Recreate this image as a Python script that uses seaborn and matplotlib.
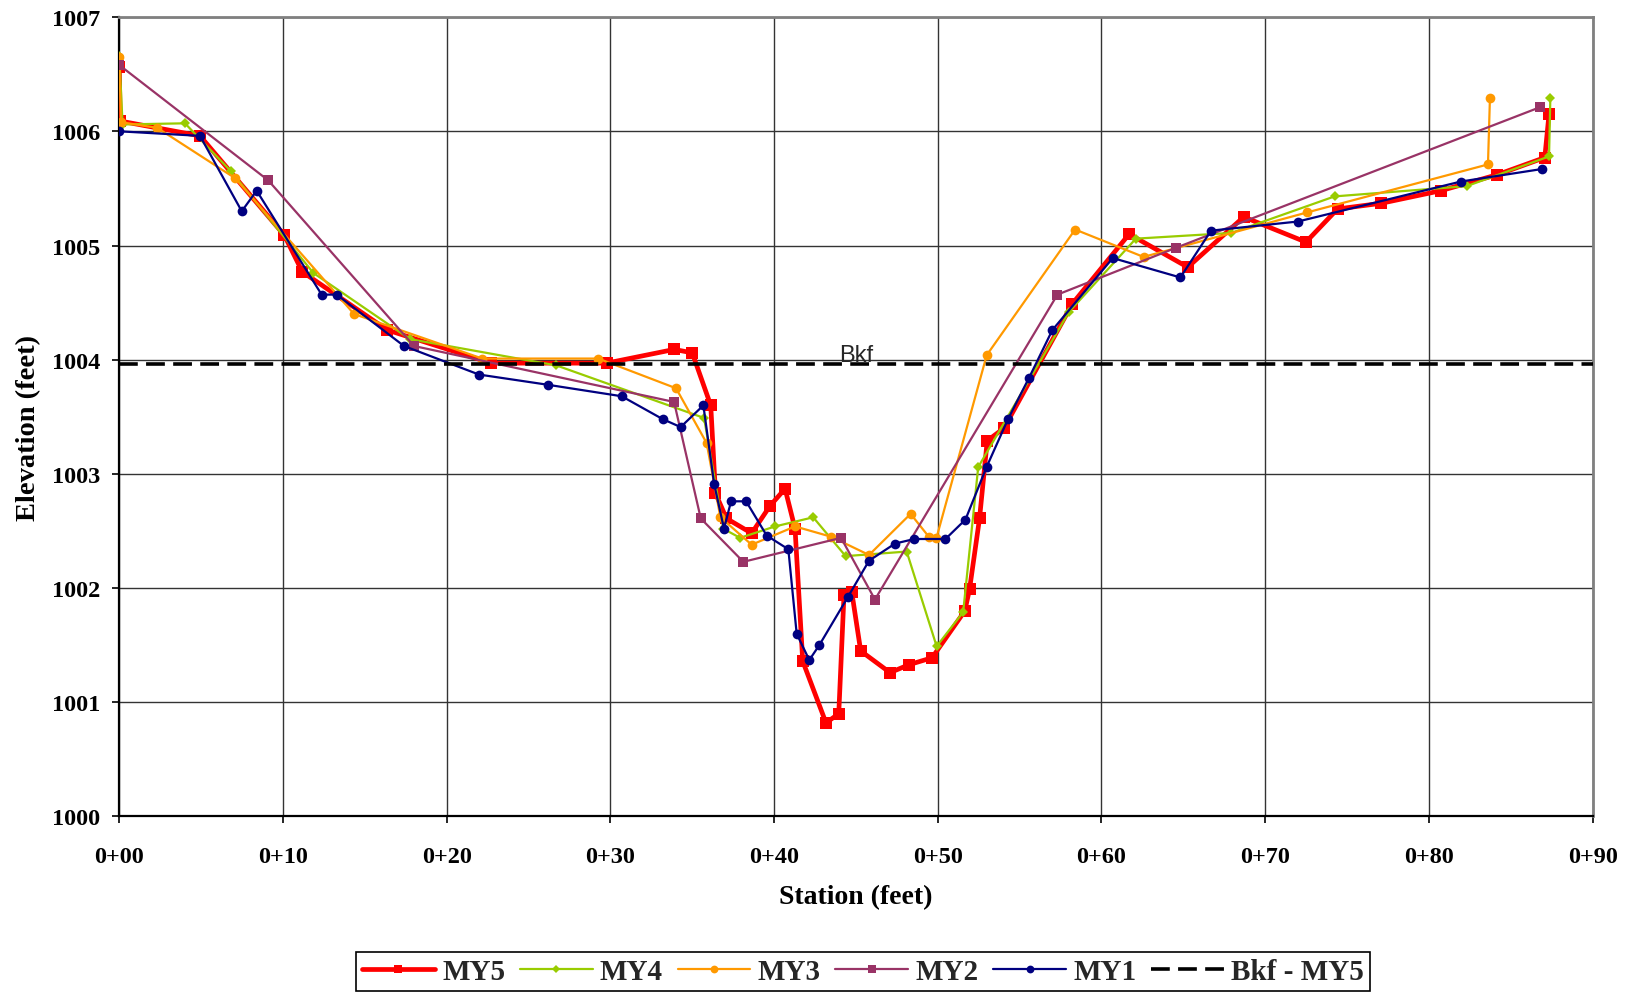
import matplotlib
matplotlib.use("Agg")
import matplotlib.pyplot as plt
import seaborn as sns
from matplotlib.ticker import FixedLocator, FuncFormatter

# ---------------- data ----------------
my5_x = [0.0, 0.05, 4.93, 10.08, 11.18, 16.37, 22.71, 29.77, 33.90, 35.00, 36.13, 36.42, 37.09, 38.63,
         39.75, 40.67, 41.28, 41.75, 43.17, 43.95, 44.27, 44.74, 45.29, 47.08, 48.26, 49.65, 51.65,
         51.94, 52.55, 53.02, 54.04, 58.22, 61.69, 65.27, 68.69, 72.49, 74.42, 77.10, 80.73, 84.18,
         87.08, 87.34]
my5_y = [1006.56, 1006.09, 1005.96, 1005.09, 1004.77, 1004.26, 1003.97, 1003.97, 1004.09, 1004.06,
         1003.60, 1002.83, 1002.61, 1002.48, 1002.72, 1002.87, 1002.52, 1001.36, 1000.82, 1000.90,
         1001.94, 1001.97, 1001.45, 1001.26, 1001.33, 1001.39, 1001.80, 1001.99, 1002.61, 1003.29,
         1003.40, 1004.49, 1005.10, 1004.81, 1005.25, 1005.03, 1005.32, 1005.37, 1005.48, 1005.62,
         1005.77, 1006.15]

my4_x = [0.0, 0.2, 4.01, 6.82, 11.85, 17.76, 26.70, 35.72, 36.90, 37.92, 40.06, 42.39, 44.37, 48.10,
         49.93, 51.55, 52.47, 58.02, 62.10, 67.92, 74.24, 82.31, 87.34, 87.42]
my4_y = [1006.66, 1006.06, 1006.07, 1005.65, 1004.76, 1004.18, 1003.95, 1003.49, 1002.52, 1002.44,
         1002.54, 1002.62, 1002.28, 1002.32, 1001.49, 1001.79, 1003.06, 1004.42, 1005.06, 1005.11,
         1005.43, 1005.52, 1005.78, 1006.29]

my3_x = [0.0, 0.1, 2.32, 7.07, 14.34, 22.17, 29.26, 34.01, 35.88, 36.72, 38.63, 41.28, 43.48, 45.80,
         48.34, 49.45, 49.92, 52.99, 58.39, 62.57, 72.57, 83.61, 83.73]
my3_y = [1006.65, 1006.08, 1006.03, 1005.59, 1004.40, 1004.01, 1004.01, 1003.75, 1003.27, 1002.62,
         1002.38, 1002.54, 1002.45, 1002.29, 1002.65, 1002.45, 1002.44, 1004.04, 1005.14, 1004.90,
         1005.29, 1005.71, 1006.29]

my2_x = [0.0, 9.10, 18.00, 33.89, 35.52, 38.12, 44.09, 46.16, 57.31, 64.55, 86.77]
my2_y = [1006.58, 1005.57, 1004.12, 1003.63, 1002.61, 1002.23, 1002.44, 1001.90, 1004.57, 1004.98,
         1006.21]

my1_x = [0.0, 4.93, 7.48, 8.39, 12.36, 13.28, 17.39, 21.97, 26.20, 30.69, 33.19, 34.29, 35.68, 36.34,
         36.94, 37.37, 38.29, 39.55, 40.87, 41.38, 42.15, 42.76, 44.50, 45.80, 47.39, 48.57, 50.47,
         51.69, 52.98, 54.29, 55.57, 57.00, 60.69, 64.82, 66.69, 72.00, 81.95, 86.92]
my1_y = [1006.00, 1005.96, 1005.30, 1005.48, 1004.57, 1004.57, 1004.12, 1003.87, 1003.78, 1003.68,
         1003.48, 1003.41, 1003.60, 1002.91, 1002.52, 1002.76, 1002.76, 1002.46, 1002.34, 1001.60,
         1001.37, 1001.50, 1001.92, 1002.24, 1002.39, 1002.43, 1002.43, 1002.60, 1003.06, 1003.48,
         1003.84, 1004.26, 1004.89, 1004.72, 1005.13, 1005.21, 1005.56, 1005.67]

bkf_x = [0.0, 90.0]
bkf_y = [1003.96, 1003.96]

x_ticks = [0, 10, 20, 30, 40, 50, 60, 70, 80, 90]
y_ticks = [1000, 1001, 1002, 1003, 1004, 1005, 1006, 1007]

# ---------------- style ----------------
sns.set_theme(style="white")
plt.rcParams["font.family"] = ["Liberation Serif", "DejaVu Serif"]

fig = plt.figure(figsize=(16.29, 9.95), dpi=100)
ax = fig.add_axes([0.07324, 0.1784, 0.9044, 0.8034])

series = [
    ("MY5", my5_x, my5_y, "#FF0000", "s", 3.4, 8.0),
    ("MY4", my4_x, my4_y, "#99CC00", "D", 1.6, 5.5),
    ("MY3", my3_x, my3_y, "#FF9900", "o", 1.6, 7.0),
    ("MY2", my2_x, my2_y, "#993366", "s", 1.6, 6.5),
    ("MY1", my1_x, my1_y, "#000080", "o", 1.6, 7.0),
]
for i, (lab, xs, ys, col, mk, lw, ms) in enumerate(series):
    sns.lineplot(x=xs, y=ys, sort=False, estimator=None, ax=ax, color=col, marker=mk,
                 linewidth=lw, markersize=ms, markeredgecolor=col, markeredgewidth=0,
                 label=lab, zorder=3 + i)

sns.lineplot(x=bkf_x, y=bkf_y, sort=False, estimator=None, ax=ax, color="black",
             linewidth=2.6, linestyle=(0, (5.2, 2.3)), label="Bkf - MY5", zorder=10)

ax.text(43.97, 1003.99, "Bkf", fontsize=17, family=["Liberation Sans", "DejaVu Sans"],
        ha="left", va="baseline", zorder=11)

ax.set_xlim(0, 90)
ax.set_ylim(1000, 1007)
ax.xaxis.set_major_locator(FixedLocator(x_ticks))
ax.yaxis.set_major_locator(FixedLocator(y_ticks))
ax.xaxis.set_major_formatter(FuncFormatter(lambda v, p: "0+%02d" % int(round(v))))
ax.yaxis.set_major_formatter(FuncFormatter(lambda v, p: "%d" % int(round(v))))

ax.grid(True, color="#333333", linewidth=1.0)
ax.set_axisbelow(True)

for s in ["left", "bottom"]:
    ax.spines[s].set_color("black")
    ax.spines[s].set_linewidth(1.6)
for s in ["top", "right"]:
    ax.spines[s].set_color("#808080")
    ax.spines[s].set_linewidth(2.0)

ax.tick_params(axis="both", which="major", direction="out", length=5, width=1.2,
               color="black", labelsize=17.5, labelcolor="black")
ax.tick_params(axis="x", pad=16, bottom=True)
ax.tick_params(axis="y", pad=8.5, left=True)
for t in ax.get_xticklabels() + ax.get_yticklabels():
    t.set_fontweight("bold")

ax.set_xlabel("Station (feet)", fontsize=20, fontweight="bold", color="black")
ax.set_ylabel("Elevation (feet)", fontsize=20.5, fontweight="bold", color="black")
ax.xaxis.set_label_coords(0.5, -0.084)
ax.yaxis.set_label_coords(-0.053, 0.487)

handles, labels = ax.get_legend_handles_labels()
order = ["MY5", "MY4", "MY3", "MY2", "MY1", "Bkf - MY5"]
hmap = dict(zip(labels, handles))
leg = ax.legend([hmap[k] for k in order], order, loc="center",
                bbox_to_anchor=(0.5298, 0.0225), bbox_transform=fig.transFigure,
                ncol=6, frameon=True, fancybox=False, edgecolor="black", framealpha=1,
                prop={"family": ["Liberation Serif"], "weight": "bold", "size": 21},
                handlelength=2.5, handletextpad=0.25, columnspacing=0.5, borderpad=0.2,
                markerscale=0.8)
leg.get_frame().set_linewidth(1.2)

fig.savefig("out.png", dpi=100)
